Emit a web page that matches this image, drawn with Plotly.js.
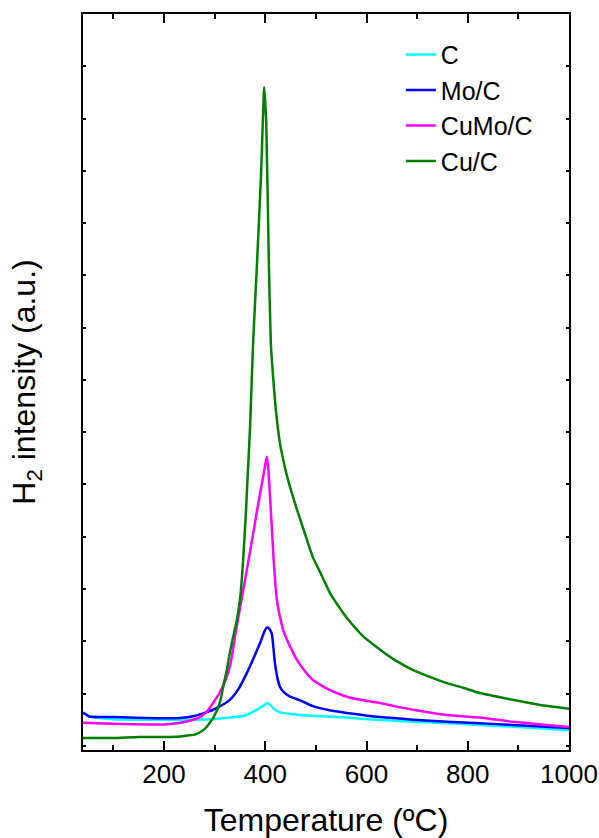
<!DOCTYPE html>
<html>
<head>
<meta charset="utf-8">
<script src="https://cdn.plot.ly/plotly-3.0.1.min.js"></script>
<style>html,body{margin:0;padding:0;background:#fff;}#chart{width:599px;height:838px;}</style>
</head>
<body>
<div id="chart"></div>
<script>
// Temperature (ºC) and H2 intensity (a.u.)
const cT   = [40, 50, 100, 160, 232, 290, 330, 360, 376, 392, 405, 418, 429, 450, 469, 520, 561, 620, 692, 760, 824, 900, 1000];
const cV   = [0.65, 0.57, 0.51, 0.50, 0.50, 0.51, 0.54, 0.58, 0.65, 0.74, 0.82, 0.70, 0.64, 0.61, 0.59, 0.56, 0.54, 0.50, 0.46, 0.43, 0.40, 0.36, 0.30];

const moT  = [40, 46, 52, 100, 160, 232, 260, 280, 297, 315, 330, 348, 364, 378, 390, 398, 403, 408, 413, 419, 424, 429, 436, 449, 469, 494, 527, 561, 627, 692, 759, 824, 889, 1000];
const moV  = [0.63, 0.60, 0.56, 0.55, 0.53, 0.53, 0.57, 0.63, 0.69, 0.78, 0.88, 1.10, 1.40, 1.70, 1.97, 2.18, 2.26, 2.24, 2.14, 1.59, 1.30, 1.13, 1.03, 0.94, 0.87, 0.76, 0.68, 0.63, 0.55, 0.50, 0.46, 0.43, 0.40, 0.34];

const cumoT = [40, 100, 200, 232, 250, 271, 285, 297, 310, 324, 333, 340, 346, 356, 366, 376, 384, 394, 400, 403, 406, 411, 417, 423, 429, 436, 443, 453, 463, 478, 494, 527, 561, 594, 627, 660, 692, 759, 824, 889, 945, 1000];
const cumoV = [0.44, 0.42, 0.41, 0.44, 0.48, 0.55, 0.66, 0.82, 1.02, 1.32, 1.65, 2.08, 2.41, 2.95, 3.50, 4.05, 4.51, 5.05, 5.38, 5.53, 5.30, 4.51, 3.50, 2.79, 2.47, 2.20, 2.03, 1.82, 1.64, 1.43, 1.26, 1.07, 0.94, 0.87, 0.82, 0.75, 0.69, 0.59, 0.54, 0.46, 0.41, 0.36];

const cuT  = [40, 100, 150, 200, 232, 250, 262, 271, 280, 285, 292, 297, 305, 311, 317, 324, 330, 337, 344, 350, 356, 362, 366, 370, 376, 384, 392, 398, 402, 407, 411, 416, 421, 429, 436, 443, 453, 463, 478, 494, 512, 528, 544, 561, 593, 627, 658, 692, 725, 759, 791, 824, 889, 943, 1000];
const cuV  = [0.15, 0.15, 0.17, 0.17, 0.18, 0.20, 0.22, 0.26, 0.32, 0.37, 0.46, 0.53, 0.69, 0.85, 1.13, 1.45, 1.78, 2.10, 2.41, 2.79, 3.50, 4.51, 5.30, 6.10, 7.71, 9.29, 11.00, 12.60, 11.90, 9.29, 7.71, 7.00, 6.42, 5.79, 5.45, 5.16, 4.82, 4.51, 4.07, 3.61, 3.25, 2.92, 2.68, 2.45, 2.10, 1.84, 1.63, 1.45, 1.32, 1.20, 1.11, 1.01, 0.88, 0.78, 0.71];

const seriesNames = ['C', 'Mo/C', 'CuMo/C', 'Cu/C'];
const seriesColors = ['#00FFFF', '#0000FF', '#FF00FF', '#008000'];
const xs = [cT, moT, cumoT, cuT];
const ys = [cV, moV, cumoV, cuV];

const traces = seriesNames.map((n, i) => ({
  x: xs[i], y: ys[i], name: n, type: 'scatter', mode: 'lines',
  line: {color: seriesColors[i], width: 2.5, shape: 'spline', smoothing: 0.5}
}));

const font = 'Liberation Sans, Arial, sans-serif';
const layout = {
  width: 599, height: 838,
  margin: {l: 83, r: 30, t: 14, b: 88},
  paper_bgcolor: '#ffffff', plot_bgcolor: '#ffffff',
  font: {family: font, color: '#000', size: 26},
  showlegend: true,
  legend: {x: 0.654, y: 0.976, xanchor: 'left', yanchor: 'top', bgcolor: 'rgba(0,0,0,0)',
           font: {family: font, size: 25, color: '#000'}, tracegroupgap: 0},
  xaxis: {
    range: [40, 1000], tick0: 0, dtick: 200, showgrid: false, zeroline: false,
    showline: true, linewidth: 2, linecolor: '#000', mirror: 'ticks',
    ticks: 'inside', ticklen: 9, tickwidth: 2, tickcolor: '#000',
    minor: {dtick: 100, ticks: 'inside', ticklen: 5, tickwidth: 2, tickcolor: '#000'},
    tickfont: {family: font, size: 26, color: '#000'},
    title: {text: 'Temperature (ºC)', font: {family: font, size: 32, color: '#000'}, standoff: 33}
  },
  yaxis: {
    range: [-0.08, 14.0], tick0: 0, dtick: 1, showgrid: false, zeroline: false,
    showline: true, linewidth: 2, linecolor: '#000', mirror: 'ticks',
    ticks: 'inside', ticklen: 3, tickwidth: 2, tickcolor: '#000',
    showticklabels: false,
    title: {text: 'H<sub>2</sub> intensity (a.u.)', font: {family: font, size: 32, color: '#000'}, standoff: 36}
  }
};

Plotly.newPlot('chart', traces, layout, {displayModeBar: false, staticPlot: true});
</script>
</body>
</html>
